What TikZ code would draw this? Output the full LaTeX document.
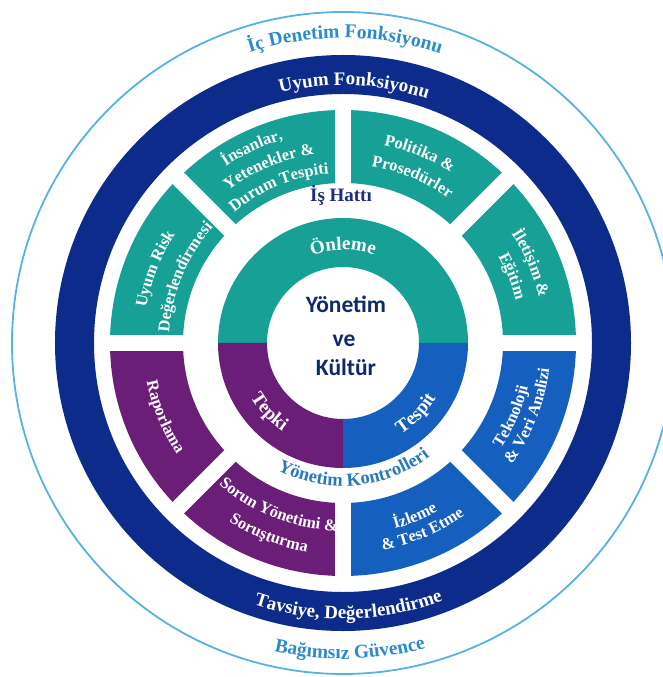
\documentclass[tikz,border=0pt]{standalone}
\usepackage{fontspec}
\setmainfont{Liberation Serif}
\newfontfamily\cfont{Carlito}
\usetikzlibrary{decorations.text}
\definecolor{navyc}{HTML}{0D2B8A}
\definecolor{tealc}{HTML}{17A096}
\definecolor{purpc}{HTML}{6B1E78}
\definecolor{bluec}{HTML}{1560BE}
\definecolor{lineblue}{HTML}{58B2E3}
\definecolor{lbtext}{HTML}{2A8CCD}
\definecolor{kontc}{HTML}{2979BF}
\definecolor{hatc}{HTML}{1D2C7D}
\definecolor{ctext}{HTML}{0E2A6B}
\newcommand\segf{\bfseries\fontsize{16.5}{16.5}\selectfont\color{white}}
\newcommand\ringf{\bfseries\fontsize{19}{19}\selectfont\color{white}}
\newcommand\outf{\bfseries\fontsize{19.5}{19.5}\selectfont\color{lbtext}}
\newcommand\innf{\bfseries\fontsize{19}{19}\selectfont\color{white}}
\newcommand\kontf{\bfseries\fontsize{18.5}{18.5}\selectfont\color{kontc}}
% clockwise arc text (letters point outward)
\newcommand\ttxt[5]{\path[decorate,decoration={text along path,text align=center,text={|#4|#5}}] ({#2+#3}:#1) arc[start angle={#2+#3},end angle={#2-#3},radius=#1];}
% counter-clockwise arc text (letters point inward)
\newcommand\btxt[5]{\path[decorate,decoration={text along path,text align=center,text={|#4|#5}}] ({#2-#3}:#1) arc[start angle={#2-#3},end angle={#2+#3},radius=#1];}
\tikzset{
  gapline/.style={white,line width=16pt},
  ctr/.style={anchor=base,inner sep=0pt,font=\cfont\bfseries\fontsize{23.5}{23.5}\selectfont,text=ctext}
}
\begin{document}
\begin{tikzpicture}[x=1pt,y=1pt]
\useasboundingbox (-343,-334) rectangle (319,343);
\fill[white] (-343,-334) rectangle (319,343);
% outer thin circle
\draw[lineblue,line width=1.8pt] (0,0) circle[radius=331];
% navy ring
\fill[navyc,even odd rule] (0,0) circle[radius=288] (0,0) circle[radius=249];
% segment ring
\fill[tealc] (0:233) arc[start angle=0,end angle=180,radius=233] -- (180:160) arc[start angle=180,end angle=0,radius=160] -- cycle;
\fill[purpc] (180:233) arc[start angle=180,end angle=270,radius=233] -- (270:160) arc[start angle=270,end angle=180,radius=160] -- cycle;
\fill[bluec] (270:233) arc[start angle=270,end angle=360,radius=233] -- (360:160) arc[start angle=360,end angle=270,radius=160] -- cycle;
\foreach \a in {0,45,...,315} \draw[gapline] (\a:150) -- (\a:240);
% inner ring
\fill[tealc] (0:125) arc[start angle=0,end angle=180,radius=125] -- (180:76) arc[start angle=180,end angle=0,radius=76] -- cycle;
\fill[purpc] (180:125) arc[start angle=180,end angle=270,radius=125] -- (270:76) arc[start angle=270,end angle=180,radius=76] -- cycle;
\fill[bluec] (270:125) arc[start angle=270,end angle=360,radius=125] -- (360:76) arc[start angle=360,end angle=270,radius=76] -- cycle;
% outer texts
\ttxt{305}{89.6}{50}{\outf}{İç Denetim Fonksiyonu}
\btxt{316}{271.3}{50}{\outf}{Bağımsız Güvence}
\ttxt{258}{87.5}{50}{\ringf}{Uyum Fonksiyonu}
\btxt{276}{271.2}{50}{\ringf}{Tavsiye, Değerlendirme}
% segment texts
\ttxt{212}{115}{40}{\segf}{İnsanlar,}
\ttxt{191}{112.7}{40}{\segf}{Yetenekler {\&}}
\ttxt{170}{112.3}{40}{\segf}{Durum Tespiti}
\ttxt{202}{68}{40}{\segf}{Politika {\&}}
\ttxt{179}{67.4}{40}{\segf}{Prosedürler}
\ttxt{201}{23}{40}{\segf}{İletişim {\&}}
\ttxt{178}{21.5}{40}{\segf}{Eğitim}
\ttxt{200}{158.5}{40}{\segf}{Uyum Risk}
\ttxt{174}{157.5}{40}{\segf}{Değerlendirmesi}
\btxt{200}{202.5}{40}{\segf}{Raporlama}
\btxt{188}{248.5}{40}{\segf}{Sorun Yönetimi {\&}}
\btxt{212}{248.8}{40}{\segf}{Soruşturma}
\btxt{193}{292.5}{40}{\segf}{İzleme}
\btxt{211}{293}{40}{\segf}{{\&} Test Etme}
\btxt{190}{336.5}{40}{\segf}{Teknoloji}
\btxt{208}{338.5}{40}{\segf}{{\&} Veri Analizi}
% inner ring texts
\ttxt{93}{90}{70}{\innf}{Önleme}
\btxt{107}{223}{70}{\innf}{Tepki}
\btxt{108}{316}{70}{\innf}{Tespit}
\btxt{143}{275}{80}{\kontf}{Yönetim Kontrolleri}
% straight labels
\node (hat) [anchor=base,inner sep=0pt,font=\bfseries\fontsize{19}{19}\selectfont,text=hatc] at (-2,141) {İş Hattı};
\node (c1) [ctr] at (3,30) {Yönetim};
\node (c2) [ctr] at (1,-3) {ve};
\node (c3) [ctr] at (3,-32) {Kültür};
\end{tikzpicture}
\end{document}
